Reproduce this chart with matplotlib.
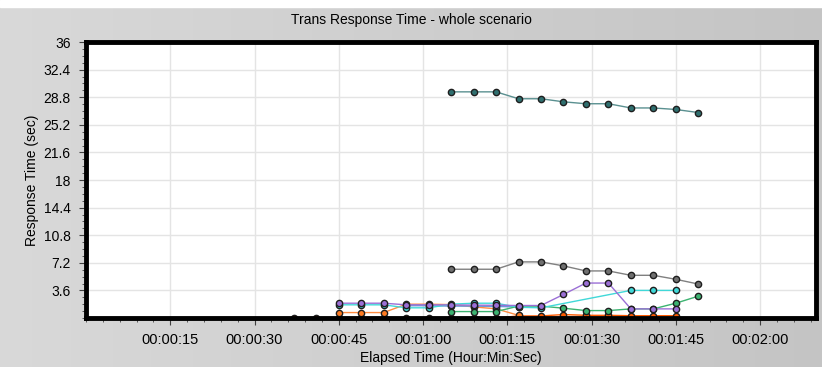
import numpy as np
import matplotlib
matplotlib.use("Agg")
import matplotlib.pyplot as plt
from matplotlib.ticker import MultipleLocator, FixedLocator

plt.rcParams['font.family'] = ['Liberation Sans', 'DejaVu Sans']

# elapsed seconds / response time (sec)
t_late = [65, 69, 73, 77, 81, 85, 89, 93, 97, 101, 105, 109]
rt_top = [29.5, 29.5, 29.5, 28.6, 28.6, 28.2, 27.95, 27.95, 27.4, 27.4, 27.2, 26.8]
rt_gray = [6.36, 6.36, 6.36, 7.32, 7.32, 6.8, 6.14, 6.14, 5.57, 5.57, 5.05, 4.43]
rt_green = [0.84, 0.84, 0.84, 1.55, 1.55, 1.28, 0.97, 0.97, 1.19, 1.19, 1.93, 2.85]

t_purple = [45, 49, 53, 57, 61, 65, 69, 73, 77, 81, 85, 89, 93, 97, 101, 105]
rt_purple = [1.93, 1.93, 1.93, 1.72, 1.72, 1.7, 1.68, 1.66, 1.63, 1.63, 3.07, 4.56, 4.56, 1.19, 1.19, 1.19]

t_cyan = [45, 49, 53, 57, 61, 65, 69, 73, 77, 81, 97, 101, 105]
rt_cyan = [1.72, 1.72, 1.72, 1.33, 1.33, 1.8, 1.93, 1.93, 1.4, 1.33, 3.6, 3.6, 3.6]

t_blue = [57, 61, 65, 69, 73, 77]
rt_blue = [1.6, 1.6, 1.55, 1.55, 1.5, 1.45]

t_orange = [45, 49, 53, 57, 61, 65, 69, 73, 77]
rt_orange = [0.71, 0.71, 0.71, 1.8, 1.8, 1.75, 1.45, 1.2, 0.35]

t_red = [37, 41, 45, 49, 53, 57, 61, 65, 69, 73, 77, 81, 85, 89, 93, 97, 101, 105]
rt_red = [0.0, 0.0, 0.0, 0.0, 0.0, 0.0, 0.0, 0.0, 0.0, 0.0,
          0.27, 0.27, 0.45, 0.35, 0.35, 0.3, 0.3, 0.3]

x_major = [15, 30, 45, 60, 75, 90, 105, 120]
y_major = [3.6, 7.2, 10.8, 14.4, 18, 21.6, 25.2, 28.8, 32.4, 36]


def hms(s):
    return "%02d:%02d:%02d" % (s // 3600, (s % 3600) // 60, s % 60)


fig = plt.figure(figsize=(8.22, 3.67), dpi=100, facecolor="#cdcdcd")
# light strip at the very top + soft left-to-right gradient
bg = fig.add_axes([0, 0, 1, 1], zorder=-10)
grad = np.linspace(0.85, 0.77, 256).reshape(1, -1)
bg.imshow(np.dstack([grad, grad, grad]), aspect="auto", extent=[0, 1, 0, 1])
bg.axhspan(0.98, 1.0, color="white")
bg.set_xlim(0, 1); bg.set_ylim(0, 1)
bg.axis("off")

ax = fig.add_axes([0.1046, 0.1335, 0.8884, 0.752])
ax.set_facecolor("white")

mk = dict(marker="o", markersize=4.5, markeredgecolor="#1e1e1e", markeredgewidth=1.0, linewidth=1.0)
ax.plot(t_red, rt_red, color="#ff5a00", markerfacecolor="#ff5a00", **mk)
ax.plot(t_orange, rt_orange, color="#ff8c40", markerfacecolor="#ff7a20", **mk)
ax.plot(t_blue, rt_blue, color="#6a9ad8", markerfacecolor="#6a9ad8", **mk)
ax.plot(t_late, rt_green, color="#3cb371", markerfacecolor="#3cb371", **mk)
ax.plot(t_cyan, rt_cyan, color="#40d8d8", markerfacecolor="#40d8d8", **mk)
ax.plot(t_purple, rt_purple, color="#9b6fd6", markerfacecolor="#9b6fd6", **mk)
ax.plot(t_late, rt_gray, color="#808080", markerfacecolor="#707070", **mk)
ax.plot(t_late, rt_top, color="#5a9090", markerfacecolor="#2f6f6f", **mk)

ax.set_xlim(0, 130)
ax.set_ylim(0, 36)
ax.xaxis.set_major_locator(FixedLocator(x_major))
ax.set_xticklabels([hms(s) for s in x_major])
ax.xaxis.set_minor_locator(MultipleLocator(3))
ax.yaxis.set_major_locator(FixedLocator(y_major))
ax.set_yticklabels(["%g" % v for v in y_major])
ax.yaxis.set_minor_locator(MultipleLocator(0.9))

ax.grid(True, which="major", color="#e4e4e4", linewidth=1.0)
ax.set_axisbelow(True)
ax.tick_params(which="major", length=5, width=0.8, color="#404040", labelsize=10, pad=6)
ax.tick_params(axis="x", which="major", labelsize=10.5)
ax.tick_params(which="minor", length=3, width=0.6, color="#404040")
for sp in ax.spines.values():
    sp.set_linewidth(3.5)
    sp.set_color("black")
    sp.set_zorder(5)

ax.set_xlabel("Elapsed Time (Hour:Min:Sec)", fontsize=10, labelpad=3)
ax.set_ylabel("Response Time (sec)", fontsize=10, labelpad=3)
fig.text(0.5, 0.945, "Trans Response Time - whole scenario", ha="center", va="center", fontsize=10)

fig.savefig("out.png", dpi=100, facecolor=fig.get_facecolor())
